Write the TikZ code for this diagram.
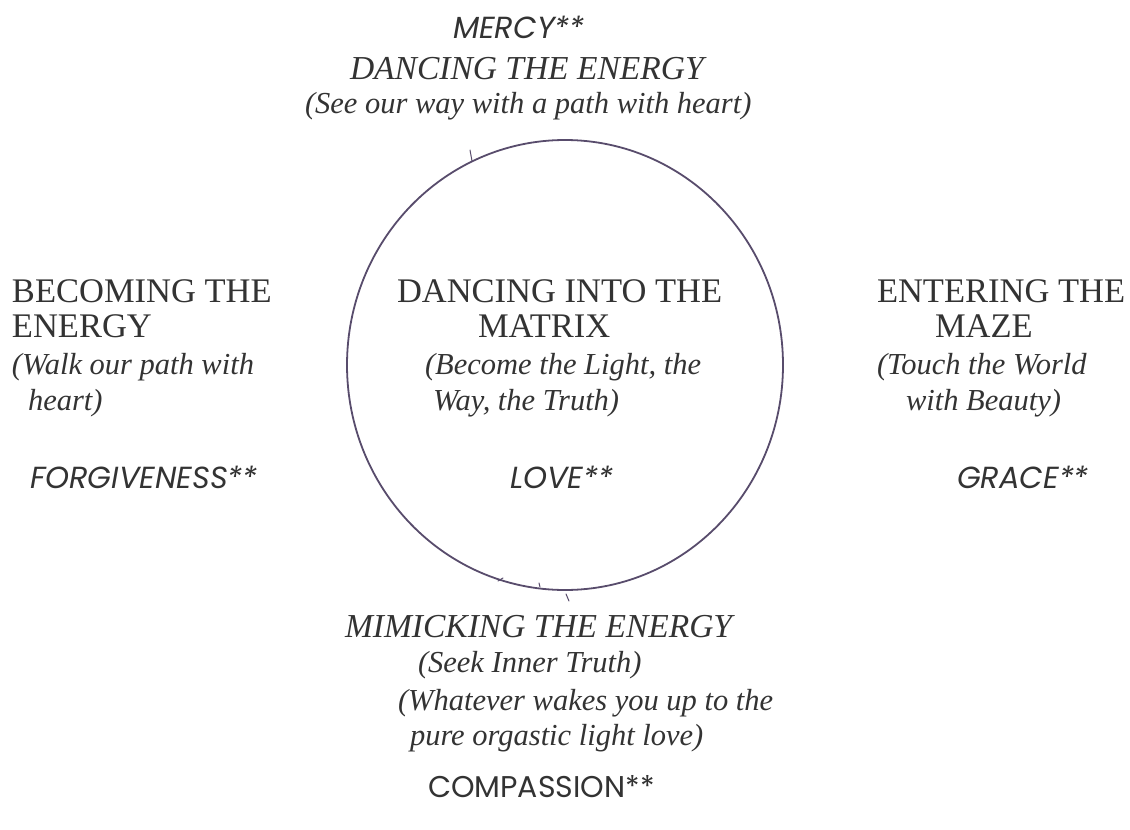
\documentclass[tikz,border=0pt]{standalone}
\usepackage{fontspec}
\setmainfont{Liberation Serif}
\newfontfamily\futura{Poppins}
\definecolor{ink}{HTML}{333333}
\definecolor{ring}{HTML}{584C6C}
\begin{document}
\begin{tikzpicture}[x=1pt,y=1pt,
  every node/.style={inner sep=0pt,outer sep=0pt,text=ink},
  caps/.style={anchor=base west,font=\fontsize{34.5}{38}\selectfont},
  ital/.style={anchor=base west,font=\fontsize{30.5}{35}\selectfont\itshape},
  italcaps/.style={anchor=base west,font=\fontsize{33.5}{38}\selectfont\itshape},
  virt/.style={anchor=base west,font=\fontsize{30.5}{34}\selectfont\futura\itshape},
  virtup/.style={anchor=base west,font=\fontsize{30}{34}\selectfont\futura},
  tick/.style={ring,line width=1pt,line cap=round}]
\path[fill=white] (0,0) rectangle (1130,-830);
\useasboundingbox (0,0) rectangle (1130,-830);
% circle
\draw[ring,line width=1.8pt] (565,-365) ellipse [x radius=218, y radius=225];
% small pen marks on the ring
\draw[tick] (472,-161) -- (470,-150);
\draw[tick] (498,-581) -- (503,-578);
\draw[tick] (539,-583) -- (540,-587);
\draw[tick] (566,-594) -- (569,-601);
% top
\node[virt] (mercy) at (453,-38) {MERCY**};
\node[italcaps] (dte) at (350,-79) {DANCING THE ENERGY};
\node[ital] (see) at (305,-113) {(See our way with a path with heart)};
% center
\node[caps] (dit) at (397,-302) {DANCING INTO THE};
\node[caps] (matrix) at (478,-337) {MATRIX};
\node[ital] (become) at (425,-374) {(Become the Light, the};
\node[ital] (way) at (433,-410) {Way, the Truth)};
\node[virt] (love) at (510,-488) {LOVE**};
% left
\node[caps] (becoming) at (12,-302) {BECOMING THE};
\node[caps] (energy) at (12,-337) {ENERGY};
\node[ital] (walk) at (12,-374) {(Walk our path with};
\node[ital] (heart) at (28,-410) {heart)};
\node[virt] (forg) at (30,-488) {FORGIVENESS**};
% right
\node[caps] (entering) at (877,-302) {ENTERING THE};
\node[caps] (maze) at (935,-337) {MAZE};
\node[ital] (touch) at (877,-374) {(Touch the World};
\node[ital] (beauty) at (906,-410) {with Beauty)};
\node[virt] (grace) at (957,-488) {GRACE**};
% bottom
\node[italcaps] (mimic) at (345,-637) {MIMICKING THE ENERGY};
\node[ital] (seek) at (418,-672) {(Seek Inner Truth)};
\node[ital] (whatever) at (398,-710) {(Whatever wakes you up to the};
\node[ital] (pure) at (410,-745) {pure orgastic light love)};
\node[virtup] (comp) at (428,-797) {COMPASSION**};
\end{tikzpicture}
\end{document}
